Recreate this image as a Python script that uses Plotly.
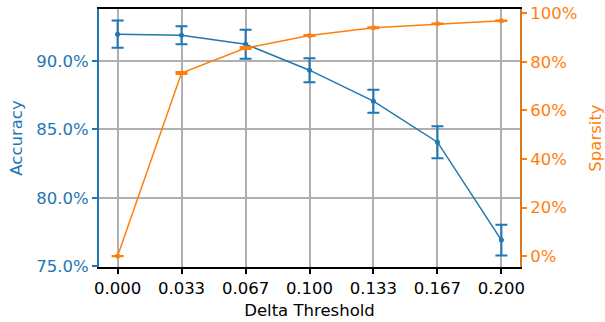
import plotly.graph_objects as go

thresholds = [0.0, 0.0333, 0.0667, 0.1, 0.1333, 0.1667, 0.2]
tick_labels = ["0.000", "0.033", "0.067", "0.100", "0.133", "0.167", "0.200"]
accuracy = [91.98, 91.90, 91.24, 89.34, 87.07, 84.07, 76.90]
accuracy_err = [1.00, 0.66, 1.06, 0.88, 0.84, 1.17, 1.13]
sparsity = [0.0, 75.4, 85.7, 90.9, 94.1, 95.7, 97.0]
sparsity_err = [0.05, 0.4, 0.4, 0.2, 0.2, 0.1, 0.1]

BLUE = "#1f77b4"
ORANGE = "#ff7f0e"
FONT = "DejaVu Sans"
FS = 16.5

fig = go.Figure()
fig.add_trace(go.Scatter(
    x=thresholds, y=accuracy, mode="lines+markers",
    line=dict(color=BLUE, width=1.5), marker=dict(color=BLUE, size=5),
    error_y=dict(type="data", array=accuracy_err, visible=True,
                 color=BLUE, thickness=2, width=6),
    yaxis="y", showlegend=False,
))
fig.add_trace(go.Scatter(
    x=thresholds, y=sparsity, mode="lines+markers",
    line=dict(color=ORANGE, width=1.5), marker=dict(color=ORANGE, size=5),
    error_y=dict(type="data", array=sparsity_err, visible=True,
                 color=ORANGE, thickness=2, width=6),
    yaxis="y2", showlegend=False,
))

fig.update_layout(
    width=605, height=322,
    margin=dict(l=99, r=85, t=9, b=55, autoexpand=False),
    paper_bgcolor="white", plot_bgcolor="white",
    font=dict(family=FONT, size=FS, color="black"),
    xaxis=dict(
        range=[-0.0097, 0.2097],
        tickvals=thresholds, ticktext=tick_labels,
        showgrid=True, gridcolor="#b0b0b0", gridwidth=1.5,
        showline=True, linecolor="black", linewidth=2, mirror=True,
        ticks="outside", ticklen=5, tickwidth=1.5, tickcolor="black",
        title=dict(text="Delta Threshold", font=dict(size=FS, color="black"), standoff=8),
        tickfont=dict(size=FS, color="black"),
        zeroline=False, automargin=False,
    ),
    yaxis=dict(
        range=[74.93, 93.82],
        tickvals=[75, 80, 85, 90], ticktext=["75.0%", "80.0%", "85.0%", "90.0%"],
        showgrid=True, gridcolor="#b0b0b0", gridwidth=1.5,
        showline=True, linecolor=BLUE, linewidth=2,
        ticks="outside", ticklen=5, tickwidth=1.5, tickcolor=BLUE,
        tickfont=dict(size=FS, color=BLUE),
        title=dict(text="Accuracy", font=dict(size=FS, color=BLUE), standoff=10),
        zeroline=False, automargin=False,
    ),
    yaxis2=dict(
        range=[-4.5, 101.8], overlaying="y", side="right",
        tickvals=[0, 20, 40, 60, 80, 100],
        ticktext=["0%", "20%", "40%", "60%", "80%", "100%"],
        showgrid=False,
        showline=True, linecolor="#e0761a", linewidth=2,
        ticks="outside", ticklen=5, tickwidth=1.5, tickcolor=ORANGE,
        tickfont=dict(size=FS, color=ORANGE),
        title=dict(text="Sparsity", font=dict(size=FS, color=ORANGE), standoff=15),
        zeroline=False, automargin=False,
    ),
)

fig.write_html("out.html", config={"displayModeBar": False},
               post_script="document.body.style.margin='0';")
